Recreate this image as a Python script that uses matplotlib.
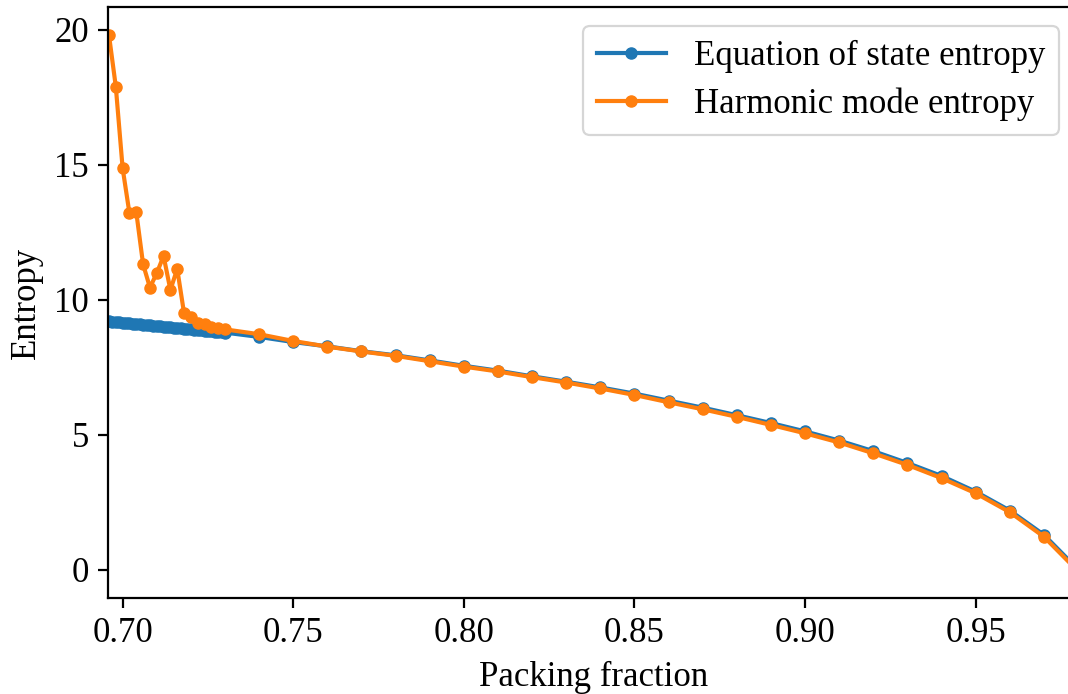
import matplotlib
matplotlib.use("Agg")
import matplotlib.pyplot as plt

plt.rcParams["font.family"] = ["Liberation Serif", "DejaVu Serif"]
plt.rcParams["mathtext.fontset"] = "stix"

# Equation-of-state entropy: dense sampling near the low packing end
eos_phi_dense = [0.696, 0.697, 0.698, 0.699, 0.700, 0.701, 0.702, 0.703, 0.704,
                 0.705, 0.706, 0.707, 0.708, 0.709, 0.710, 0.711, 0.712, 0.713,
                 0.714, 0.715, 0.716, 0.717, 0.718, 0.719, 0.720, 0.721, 0.722,
                 0.723, 0.724, 0.725, 0.726, 0.727, 0.728, 0.729, 0.730]
eos_s_dense = [9.21, 9.20, 9.19, 9.17, 9.16, 9.15, 9.14, 9.12, 9.11,
               9.10, 9.09, 9.07, 9.06, 9.05, 9.04, 9.02, 9.01, 9.00,
               8.99, 8.97, 8.96, 8.95, 8.94, 8.92, 8.91, 8.90, 8.89,
               8.87, 8.86, 8.85, 8.84, 8.82, 8.81, 8.80, 8.79]

# Coarse grid shared by both methods
phi_coarse = [0.74, 0.75, 0.76, 0.77, 0.78, 0.79, 0.80, 0.81, 0.82, 0.83,
              0.84, 0.85, 0.86, 0.87, 0.88, 0.89, 0.90, 0.91, 0.92, 0.93,
              0.94, 0.95, 0.96, 0.97, 0.98]
eos_s_coarse = [8.63, 8.44, 8.28, 8.10, 7.95, 7.76, 7.56, 7.38, 7.17, 6.97,
                6.76, 6.53, 6.27, 6.01, 5.73, 5.44, 5.13, 4.79, 4.40, 3.96,
                3.48, 2.90, 2.20, 1.30, 0.02]

# Harmonic-mode entropy
harm_phi_dense = [0.696, 0.698, 0.700, 0.702, 0.704, 0.706, 0.708, 0.710, 0.712,
                  0.714, 0.716, 0.718, 0.720, 0.722, 0.724, 0.726, 0.728, 0.730]
harm_s_dense = [19.81, 17.90, 14.88, 13.21, 13.25, 11.32, 10.46, 10.99, 11.63,
                10.37, 11.15, 9.51, 9.35, 9.14, 9.11, 9.01, 8.95, 8.91]
harm_s_coarse = [8.73, 8.48, 8.27, 8.09, 7.93, 7.73, 7.53, 7.35, 7.14, 6.94,
                 6.72, 6.48, 6.21, 5.95, 5.67, 5.37, 5.06, 4.72, 4.32, 3.89,
                 3.40, 2.84, 2.14, 1.23, -0.05]

y_ticks = [0, 5, 10, 15, 20]
x_ticks = [0.70, 0.75, 0.80, 0.85, 0.90, 0.95]

W, H = 1068, 694
fig = plt.figure(figsize=(W / 100, H / 100), dpi=100)

x_lo, x_hi = 0.6958, 0.98
px_per_unit = 3412.0
left_px, top_px, bottom_px = 108.3, 7.3, 597.7
width_px = (x_hi - x_lo) * px_per_unit
ax = fig.add_axes([left_px / W, (H - bottom_px) / H, width_px / W,
                   (bottom_px - top_px) / H])

blue = "#1f77b4"
orange = "#ff7f0e"
ax.plot(eos_phi_dense + phi_coarse, eos_s_dense + eos_s_coarse,
        color=blue, lw=3, marker="o", ms=8, label="Equation of state entropy")
ax.plot(harm_phi_dense + phi_coarse, harm_s_dense + harm_s_coarse,
        color=orange, lw=3, marker="o", ms=8, label="Harmonic mode entropy")

ax.set_xlim(x_lo, x_hi)
ax.set_ylim(-1.03, 20.84)
ax.set_xticks(x_ticks)
ax.set_xticklabels([f"{v:.2f}" for v in x_ticks])
ax.set_yticks(y_ticks)
ax.tick_params(labelsize=25, width=1.6, length=7, pad=7)
for s in ax.spines.values():
    s.set_linewidth(1.6)

ax.set_xlabel("Packing fraction", fontsize=25, labelpad=8)
ax.set_ylabel("Entropy", fontsize=25, labelpad=8)

leg = ax.legend(loc="upper right", bbox_to_anchor=(1 - 9 / W, 1 - 26 / H),
                bbox_transform=fig.transFigure, borderaxespad=0,
                fontsize=25, handlelength=2.0, labelspacing=0.42,
                framealpha=0.8)
leg.get_frame().set_linewidth(1.6)

fig.savefig("out.png", dpi=100)
